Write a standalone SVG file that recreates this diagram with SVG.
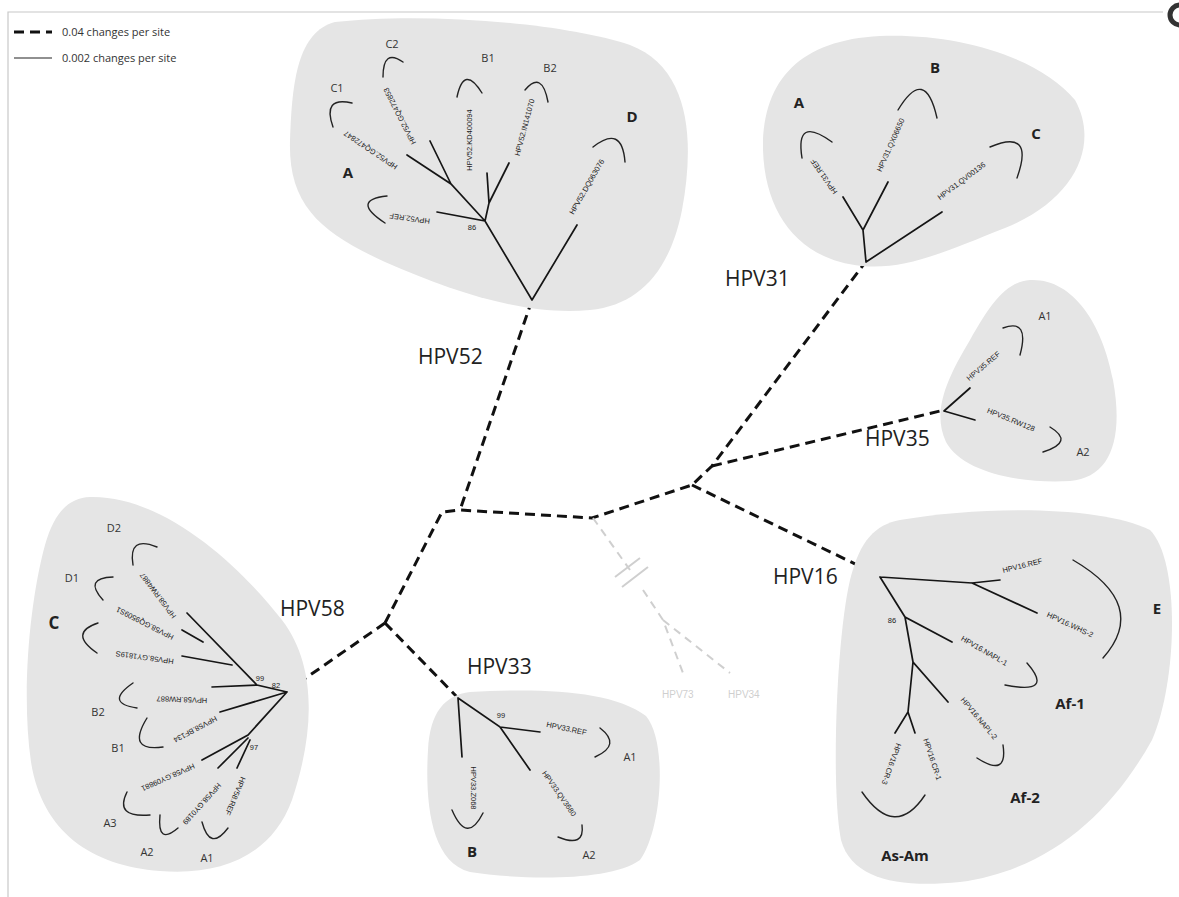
<svg xmlns="http://www.w3.org/2000/svg" width="1179" height="897" viewBox="0 0 1179 897">
<style>
.blob{fill:#e5e5e5;stroke:none}
.br{fill:none;stroke:#151515;stroke-width:1.7;stroke-linecap:round}
.bk{fill:none;stroke:#222;stroke-width:1.4;stroke-linecap:round}
.dash{fill:none;stroke:#111;stroke-width:3;stroke-dasharray:10 6}
.gdash{fill:none;stroke:#cfcfcf;stroke-width:2;stroke-dasharray:8 6}
.gl{fill:none;stroke:#cfcfcf;stroke-width:2}
.t{font-family:"Liberation Sans",Arial,sans-serif;font-size:7.5px;fill:#222;text-anchor:middle}
.big{font-family:"Open Sans",sans-serif;font-size:21px;fill:#222}
.lt{font-family:"Open Sans",sans-serif;font-size:11px;fill:#333}
.sl{font-family:"Open Sans",sans-serif;font-size:11px;fill:#333;text-anchor:middle}
.bl{font-family:"Open Sans",sans-serif;font-size:15px;font-weight:bold;fill:#222;text-anchor:middle}
.bs{font-family:"Liberation Sans",Arial,sans-serif;font-size:7.5px;fill:#222;text-anchor:middle}
.gt{font-family:"Liberation Sans",Arial,sans-serif;font-size:10px;fill:#cfcfcf}
</style>
<rect width="1179" height="897" fill="#ffffff"/>
<path d="M8,897 V12 H1163" fill="none" stroke="#c8c8c8" stroke-width="1.2"/>
<circle cx="1180" cy="15" r="10" fill="none" stroke="#333" stroke-width="5"/>

<g id="legend">
<line x1="14" y1="32" x2="52" y2="32" class="dash" stroke-width="2.5" stroke-dasharray="7 4"/>
<text x="62" y="36" class="lt">0.04 changes per site</text>
<line x1="14" y1="58" x2="52" y2="58" stroke="#222" stroke-width="1.2"/>
<text x="62" y="62" class="lt">0.002 changes per site</text>
</g>

<g id="connectors">
<path class="dash" d="M532,300 L460,510"/>
<path class="dash" d="M385,623 L442,512 L460,510 L592,518 L692,485 L712,466 L864,264"/>
<path class="dash" d="M712,466 L944,410"/>
<path class="dash" d="M692,485 L880,576"/>
<path class="dash" d="M385,623 L290,689"/>
<path class="dash" d="M385,623 L458,698"/>
<path class="gdash" d="M593,518 L630,570"/>
<path class="gdash" d="M643,590 L663,620 L683,673"/>
<path class="gdash" d="M663,620 L730,673"/>
<path class="gl" d="M615,577 L640,558 M622,587 L648,567"/>
</g>

<g id="hpv73">
<text x="662" y="698" class="gt">HPV73</text>
</g>
<g id="hpv34">
<text x="728" y="698" class="gt">HPV34</text>
</g>

<g id="hpv52">
<path class="blob" d="M335,22 C420,12 560,22 630,45 C690,68 695,140 682,210 C670,270 640,305 590,310 C530,316 460,295 385,262 C320,232 288,205 290,140 C292,80 298,32 335,22 Z"/>
<path class="br" d="M532,300 L577,225 M532,300 L485,221 L437,212 M485,221 L451,184 L407,155 M451,184 L430,141 M485,221 L489,203 L487,173 M489,203 L509,163"/>
<text class="bs" x="472" y="230">86</text>
<text class="t" transform="translate(410,216) rotate(188)">HPV52.REF</text>
<text class="t" transform="translate(372,148) rotate(214)">HPV52.GQ472847</text>
<text class="t" transform="translate(402,115) rotate(243)">HPV52.GQ472853</text>
<text class="t" transform="translate(472,140) rotate(-90)">HPV52.KD400094</text>
<text class="t" transform="translate(527,128) rotate(-75)">HPV52.IN141070</text>
<text class="t" transform="translate(589,188) rotate(-60)">HPV52.DQ063076</text>
<path class="bk" d="M383,77 Q383,48 403,62"/>
<path class="bk" d="M333,127 Q322,96 352,103"/>
<path class="bk" d="M387,196 Q350,200 385,223"/>
<path class="bk" d="M457,97 Q464,64 482,93"/>
<path class="bk" d="M525,90 Q542,70 548,102"/>
<path class="bk" d="M593,147 Q622,124 625,162"/>
<text class="sl" x="392" y="48">C2</text>
<text class="sl" x="337" y="92">C1</text>
<text class="sl" x="488" y="62">B1</text>
<text class="sl" x="550" y="72">B2</text>
<text class="bl" x="348" y="178">A</text>
<text class="bl" x="632" y="122">D</text>
<text class="big" x="418" y="364">HPV52</text>
</g>

<g id="hpv31">
<path class="blob" d="M862,266 C800,260 765,215 763,150 C762,80 800,40 880,36 C960,33 1040,58 1075,100 C1100,145 1075,200 1005,228 C945,252 905,270 862,266 Z"/>
<path class="br" d="M866,262 L863,230 L843,197 M863,230 L888,182 M866,262 L942,212"/>
<text class="t" transform="translate(826,175) rotate(235)">HPV31.REF</text>
<text class="t" transform="translate(893,146) rotate(-66)">HPV31.QX06650</text>
<text class="t" transform="translate(963,183) rotate(-37)">HPV31.QV00136</text>
<path class="bk" d="M802,158 Q795,115 832,142"/>
<path class="bk" d="M898,110 Q925,65 937,118"/>
<path class="bk" d="M990,147 Q1035,128 1017,178"/>
<text class="bl" x="799" y="108">A</text>
<text class="bl" x="935" y="73">B</text>
<text class="bl" x="1036" y="139">C</text>
<text class="big" x="725" y="286">HPV31</text>
</g>

<g id="hpv35">
<path class="blob" d="M1030,280 C1072,278 1102,322 1113,380 C1124,440 1110,478 1070,481 C1020,484 962,472 946,442 C932,412 946,380 970,340 C990,305 1005,282 1030,280 Z"/>
<path class="br" d="M944,411 L970,388 M944,411 L975,420"/>
<text class="t" transform="translate(985,368) rotate(-40)">HPV35.REF</text>
<text class="t" transform="translate(1010,422) rotate(22)">HPV35.RW128</text>
<path class="bk" d="M1003,328 Q1030,318 1020,355"/>
<path class="bk" d="M1050,427 Q1075,442 1043,452"/>
<text class="sl" x="1045" y="320">A1</text>
<text class="sl" x="1083" y="456">A2</text>
<text class="big" x="865" y="446">HPV35</text>
</g>

<g id="hpv58">
<path class="blob" d="M90,497 C160,495 235,560 282,620 C320,670 312,740 292,800 C272,855 222,876 160,871 C92,866 42,832 31,762 C21,692 30,600 45,545 C55,510 70,498 90,497 Z"/>
<path class="br" d="M287,692 L257,685 L187,613 M203,642 L182,630 M232,665 L182,656 M257,685 L212,687 M287,692 L220,712 M287,692 L248,735 L202,760 M248,738 L218,768 M250,740 L237,768"/>
<text class="bs" x="260" y="681">99</text>
<text class="bs" x="276" y="688">82</text>
<text class="bs" x="254" y="750">97</text>
<text class="t" transform="translate(160,594) rotate(233)">HPV58.RW4887</text>
<text class="t" transform="translate(146,621) rotate(207)">HPV58.GQ9509S1</text>
<text class="t" transform="translate(145,655) rotate(188)">HPV58.GY1819S</text>
<text class="t" transform="translate(182,697) rotate(182)">HPV58.RW887</text>
<text class="t" transform="translate(194,727) rotate(152)">HPV58.BF134</text>
<text class="t" transform="translate(167,775) rotate(156)">HPV58.GY09881</text>
<text class="t" transform="translate(200,802) rotate(132)">HPV58.GY0189</text>
<text class="t" transform="translate(233,795) rotate(113)">HPV58.REF</text>
<path class="bk" d="M157,547 Q128,535 133,565"/>
<path class="bk" d="M113,577 Q83,578 103,600"/>
<path class="bk" d="M98,623 Q68,633 97,653"/>
<path class="bk" d="M133,683 Q104,703 137,708"/>
<path class="bk" d="M147,718 Q126,752 163,747"/>
<path class="bk" d="M127,792 Q114,818 150,815"/>
<path class="bk" d="M160,815 Q157,846 178,828"/>
<path class="bk" d="M202,822 Q210,852 228,828"/>
<text class="sl" x="114" y="532">D2</text>
<text class="sl" x="72" y="582">D1</text>
<text class="bl" x="54" y="629" style="font-size:17px">C</text>
<text class="sl" x="98" y="716">B2</text>
<text class="sl" x="118" y="752">B1</text>
<text class="sl" x="110" y="827">A3</text>
<text class="sl" x="147" y="856">A2</text>
<text class="sl" x="207" y="862">A1</text>
<text class="big" x="280" y="616">HPV58</text>
</g>

<g id="hpv33">
<path class="blob" d="M470,692 C540,688 612,690 646,716 C668,742 662,830 640,860 C610,882 520,880 470,872 C430,862 425,800 428,750 C430,712 445,695 470,692 Z"/>
<path class="br" d="M458,698 L462,757 M458,698 L500,727 L540,732 M500,727 L530,770"/>
<text class="bs" x="501" y="718">99</text>
<text class="t" transform="translate(566,731) rotate(12)">HPV33.REF</text>
<text class="t" transform="translate(471,788) rotate(90)">HPV33.Z068</text>
<text class="t" transform="translate(557,795) rotate(55)">HPV33.QV3680</text>
<path class="bk" d="M600,728 Q622,745 595,757"/>
<path class="bk" d="M452,810 Q467,845 483,813"/>
<path class="bk" d="M582,825 Q585,848 558,837"/>
<text class="sl" x="630" y="761">A1</text>
<text class="bl" x="472" y="857">B</text>
<text class="sl" x="589" y="859">A2</text>
<text class="big" x="467" y="674">HPV33</text>
</g>

<g id="hpv16">
<path class="blob" d="M900,520 C980,506 1100,505 1150,530 C1180,560 1178,680 1152,740 C1112,812 1050,870 960,882 C900,888 852,880 841,840 C831,790 836,640 850,580 C860,540 875,525 900,520 Z"/>
<path class="br" d="M880,577 L972,583 L1000,580 M972,583 L1037,613 M880,577 L905,617 L952,642 M905,617 L913,662 L948,702 M913,662 L908,712 L895,733 M908,712 L915,733"/>
<text class="bs" x="892" y="623">86</text>
<text class="t" transform="translate(1023,568) rotate(-14)">HPV16.REF</text>
<text class="t" transform="translate(1069,627) rotate(25)">HPV16.WHS-2</text>
<text class="t" transform="translate(983,653) rotate(30)">HPV16.NAPL-1</text>
<text class="t" transform="translate(977,720) rotate(50)">HPV16.NAPL-2</text>
<text class="t" transform="translate(889,763) rotate(110)">HPV16.CR-3</text>
<text class="t" transform="translate(930,760) rotate(72)">HPV16.CR-1</text>
<path class="bk" d="M1073,560 Q1150,605 1103,658"/>
<path class="bk" d="M1027,663 Q1055,695 1005,685"/>
<path class="bk" d="M1003,745 Q1008,778 977,758"/>
<path class="bk" d="M862,792 Q895,840 925,795"/>
<text class="bl" x="1157" y="614">E</text>
<text class="bl" x="1070" y="709">Af-1</text>
<text class="bl" x="1025" y="803">Af-2</text>
<text class="bl" x="905" y="861">As-Am</text>
<text class="big" x="773" y="584">HPV16</text>
</g>
</svg>
